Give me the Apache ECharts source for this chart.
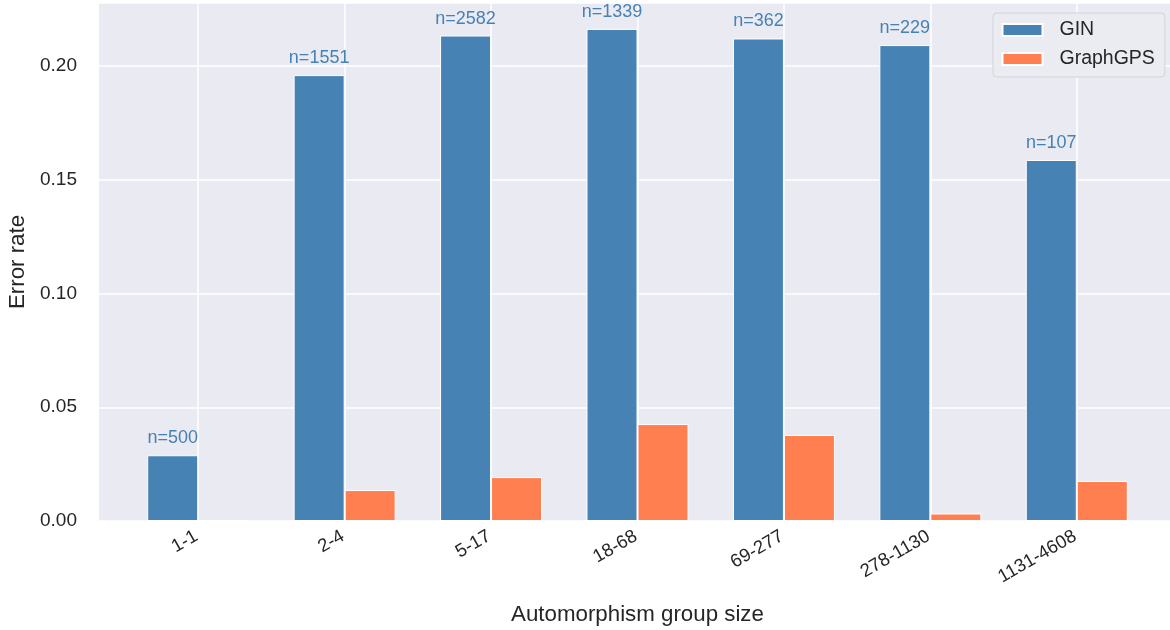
<!DOCTYPE html>
<html>
<head>
<meta charset="utf-8">
<script src="https://cdn.jsdelivr.net/npm/echarts@6/dist/echarts.min.js"></script>
<style>
  html, body { margin: 0; padding: 0; background: #ffffff; }
  #chart { width: 1170px; height: 630px; }
</style>
</head>
<body>
<div id="chart"></div>
<script>
// ---- data ----
const categories = ['1-1', '2-4', '5-17', '18-68', '69-277', '278-1130', '1131-4608'];
const ginErr = [0.0289, 0.196, 0.2134, 0.2163, 0.2121, 0.2092, 0.1587];
const gpsErr = [0, 0.0136, 0.0193, 0.0426, 0.0378, 0.0033, 0.0176];
const ginCounts = [500, 1551, 2582, 1339, 362, 229, 107];
const seriesNames = ['GIN', 'GraphGPS'];
const yMin = 0, yMax = 0.2277, yStep = 0.05;

// helper axis for vertical gridlines at category centres
const halfSteps = Array.from({ length: categories.length * 2 + 1 }, () => '');

const FONT = 'Liberation Sans, Arial, Helvetica, sans-serif';
const TXT = '#262626';
const BG = '#EAEAF2';

const chart = echarts.init(document.getElementById('chart'), null, { renderer: 'canvas' });

const option = {
  animation: false,
  textStyle: { fontFamily: FONT },
  grid: [
    { left: 99, right: 0, top: 3, bottom: 109, show: true, backgroundColor: BG, borderWidth: 0,
      containLabel: false, outerBoundsMode: 'none' },
    { left: 125, right: 20, top: 3, bottom: 109, show: false,
      containLabel: false, outerBoundsMode: 'none' }
  ],
  xAxis: [
    {
      type: 'category', gridIndex: 1, data: categories,
      axisLine: { show: false }, axisTick: { show: false }, splitLine: { show: false },
      axisLabel: {
        rotate: 30, fontSize: 18.5, color: TXT, fontFamily: FONT, margin: 13,
        padding: [0, 2, 0, 0], interval: 0
      },
      name: 'Automorphism group size', nameLocation: 'middle', nameGap: 83,
      nameTextStyle: { fontSize: 22.3, color: TXT, fontFamily: FONT }
    },
    {
      type: 'category', gridIndex: 1, data: halfSteps, boundaryGap: false,
      axisLine: { show: false }, axisTick: { show: false }, axisLabel: { show: false },
      splitLine: { show: true, interval: (i) => i % 2 === 1, lineStyle: { color: '#ffffff', width: 1.5 } }
    },
    {
      type: 'value', gridIndex: 0, min: 0, max: 1,
      axisLine: { show: false }, axisTick: { show: false }, axisLabel: { show: false }, splitLine: { show: false }
    }
  ],
  yAxis: [
    {
      type: 'value', gridIndex: 0, min: yMin, max: yMax, interval: yStep,
      axisLine: { show: false }, axisTick: { show: false },
      axisLabel: {
        fontSize: 19, color: TXT, fontFamily: FONT, margin: 22, showMaxLabel: false,
        formatter: (v) => v.toFixed(2)
      },
      splitLine: { show: true, lineStyle: { color: '#ffffff', width: 1.5 } },
      name: 'Error rate', nameLocation: 'middle', nameGap: 70,
      nameTextStyle: { fontSize: 22.3, color: TXT, fontFamily: FONT }
    },
    {
      type: 'value', gridIndex: 1, min: yMin, max: yMax, interval: yStep, show: false
    }
  ],
  legend: {
    data: seriesNames,
    orient: 'vertical', left: 993, top: 13,
    padding: [7, 10, 8, 8.5],
    itemGap: 9, itemWidth: 40, itemHeight: 12, icon: 'rect',
    backgroundColor: 'rgba(234,234,242,0.92)', borderColor: '#d3d3da', borderWidth: 1, borderRadius: 4,
    textStyle: { fontSize: 19.5, color: TXT, fontFamily: FONT, padding: [0, 0, 0, 12] }
  },
  series: [
    {
      name: seriesNames[0], type: 'bar', xAxisIndex: 0, yAxisIndex: 1,
      data: ginErr, barWidth: 51, barGap: '0%',
      itemStyle: { color: '#4682B4', borderColor: '#ffffff', borderWidth: 1 },
      label: {
        show: true, position: 'top', distance: 8, fontSize: 18, color: '#4682B4', fontFamily: FONT,
        formatter: (p) => 'n=' + ginCounts[p.dataIndex]
      }
    },
    {
      name: seriesNames[1], type: 'bar', xAxisIndex: 0, yAxisIndex: 1,
      data: gpsErr, barWidth: 51, barGap: '0%',
      itemStyle: { color: '#FF7F50', borderColor: '#ffffff', borderWidth: 1 }
    }
  ]
};

chart.setOption(option);
</script>
</body>
</html>
